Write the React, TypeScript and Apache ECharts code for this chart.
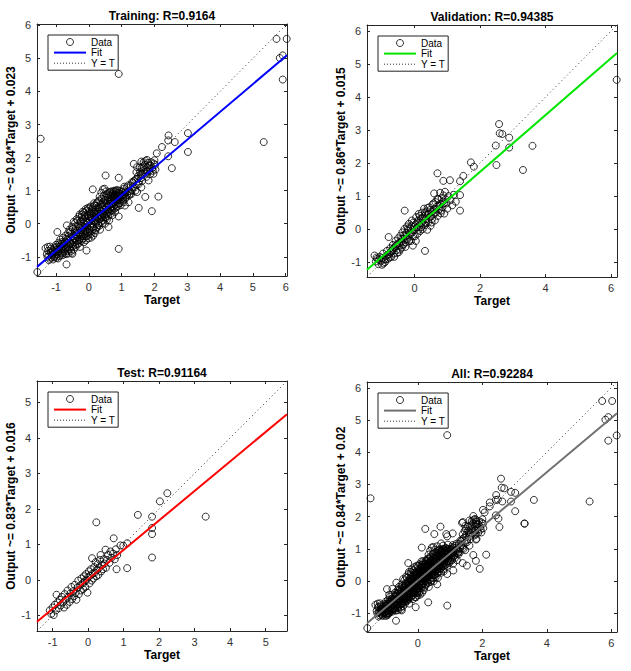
import React, { useEffect, useRef } from 'react';
import * as echarts from 'echarts';

// ---------- DATA ----------
const PANEL_TITLES = ['Training: R=0.9164', 'Validation: R=0.94385', 'Test: R=0.91164', 'All: R=0.92284'];
const Y_NAMES = [
  'Output ~= 0.84*Target + 0.023',
  'Output ~= 0.86*Target + 0.015',
  'Output ~= 0.83*Target + 0.016',
  'Output ~= 0.84*Target + 0.02',
];
const X_NAME = 'Target';
const LEGEND_LABELS = ['Data', 'Fit', 'Y = T'];
const FIT_SLOPES = [0.84, 0.86, 0.83, 0.84];
const FIT_INTERCEPTS = [0.023, 0.015, 0.016, 0.02];
const AXIS_LIMITS = [
  [-1.58, 6.04],
  [-1.45, 6.18],
  [-1.44, 5.6],
  [-1.58, 6.18],
];
const X_TICKS = [
  [-1, 0, 1, 2, 3, 4, 5, 6],
  [0, 2, 4, 6],
  [-1, 0, 1, 2, 3, 4, 5],
  [0, 2, 4, 6],
];
const Y_TICKS = [
  [-1, 0, 1, 2, 3, 4, 5, 6],
  [-1, 0, 1, 2, 3, 4, 5, 6],
  [-1, 0, 1, 2, 3, 4, 5],
  [-1, 0, 1, 2, 3, 4, 5, 6],
];

// [target, output]
const TRAINING_POINTS = [
  [-1.57, -1.46], [-1.47, 2.57], [0.91, 4.53], [5.72, 5.59], [6.03, 5.59], [5.82, 5.01], [5.91, 5.09], [5.91, 4.36],
  [5.33, 2.47], [3.02, 2.74], [3.02, 2.17], [2.43, 2.67], [2.42, 2.52], [2.62, 2.47], [2.23, 2.32], [2.07, 2.13],
  [2.42, 2.04], [2.53, 1.68], [2.02, 1.78], [2.12, 0.82], [1.92, 0.38], [1.72, 0.81], [1.52, 0.48], [0.91, 0.22],
  [0.91, -0.76], [-0.07, -0.81], [-0.68, -1.23], [-0.96, -0.25], [0.12, 1.04], [0.51, 1.46], [0.91, 1.39],
  [1.37, 1.81], [1.47, 1.71], [1.67, 1.86], [1.77, 1.93], [1.62, 1.51], [1.82, 1.31], [1.97, 1.51], [1.32, 1.26],
  [1.26, 0.91], [1.47, 0.96], [1.11, 0.76], [1.21, 0.65], [1.06, 0.65], [0.6, -0.1], [-0.5, -0.91],
  [-1.32, -0.74], [-1.28, -0.92], [-1.26, -1.0], [-1.24, -0.82], [-1.21, -0.96], [-1.19, -1.06], [-1.18, -0.69],
  [-1.16, -0.88], [-1.14, -1.02], [-1.12, -0.94], [-1.1, -0.8], [-1.09, -1.08], [-1.07, -0.9], [-1.05, -0.72],
  [-1.04, -0.99], [-1.02, -0.86], [-1.0, -0.64], [-0.99, -1.03], [-0.97, -0.78], [-0.95, -0.92], [-0.93, -0.58],
  [-0.92, -0.84], [-0.9, -0.98], [-0.88, -0.7], [-0.87, -0.48], [-0.85, -0.88], [-0.83, -0.62], [-0.82, -0.78],
  [-0.8, -0.95], [-0.79, -0.42], [-0.77, -0.68], [-0.75, -0.84], [-0.74, -0.55], [-0.72, -0.9], [-0.71, -0.36],
  [-0.7, -0.74], [-0.68, -0.6], [-0.67, -0.05], [-0.66, -0.48], [-0.64, -0.82], [-0.63, -0.28], [-0.61, -0.66],
  [-0.6, -0.52], [-0.59, -0.18], [-0.57, -0.76], [-0.56, -0.42], [-0.55, -0.6], [-0.53, -0.3], [-0.52, -0.88],
  [-0.51, -0.1], [-0.5, -0.5], [-0.49, -0.68], [-0.47, -0.38], [-0.46, 0.06], [-0.45, -0.56], [-0.43, -0.22],
  [-0.42, -0.46], [-0.41, -0.64], [-0.4, -0.08], [-0.39, -0.32], [-0.37, 0.14], [-0.36, -0.52], [-0.35, -0.2],
  [-0.34, -0.4], [-0.32, -0.02], [-0.31, -0.6], [-0.3, -0.28], [-0.29, 0.22], [-0.28, -0.12], [-0.27, -0.46],
  [-0.25, -0.34], [-0.24, 0.06], [-0.23, -0.2], [-0.22, -0.52], [-0.21, 0.28], [-0.2, -0.06], [-0.19, -0.38],
  [-0.18, 0.14], [-0.17, -0.24], [-0.16, -0.44], [-0.15, 0.02], [-0.14, 0.34], [-0.13, -0.14], [-0.12, -0.32],
  [-0.11, 0.2], [-0.1, -0.04], [-0.09, -0.5], [-0.08, 0.1], [-0.07, -0.22], [-0.06, 0.4], [-0.05, -0.1],
  [-0.04, 0.26], [-0.03, -0.36], [-0.02, 0.04], [-0.01, 0.16], [0.0, -0.16], [0.01, 0.46], [0.02, -0.28],
  [0.03, 0.08], [0.04, 0.3], [0.05, -0.06], [0.06, 0.2], [0.07, -0.42], [0.08, 0.38], [0.09, 0.0], [0.1, 0.12],
  [0.11, -0.2], [0.12, 0.5], [0.13, 0.24], [0.14, -0.1], [0.15, 0.06], [0.16, 0.34], [0.17, 0.56], [0.18, -0.28],
  [0.19, 0.16], [0.2, 0.42], [0.21, 0.02], [0.22, 0.28], [0.23, -0.14], [0.24, 0.62], [0.25, 0.2], [0.26, 0.36],
  [0.27, 0.08], [0.28, 0.5], [0.29, -0.04], [0.3, 0.3], [0.31, 0.7], [0.32, 0.14], [0.33, 0.44], [0.34, -0.18],
  [0.35, 0.24], [0.36, 0.58], [0.37, 0.06], [0.38, 0.38], [0.39, 0.76], [0.4, 0.2], [0.41, 0.5], [0.42, 0.3],
  [0.43, 0.66], [0.44, 0.1], [0.45, 0.42], [0.46, 0.84], [0.47, 0.26], [0.48, 0.56], [0.49, 0.0], [0.5, 0.36],
  [0.51, 0.72], [0.52, 0.18], [0.53, 0.48], [0.54, 0.9], [0.55, 0.3], [0.56, 0.62], [0.57, 0.42], [0.58, 0.8],
  [0.59, 0.24], [0.61, 0.54], [0.62, 0.94], [0.63, 0.36], [0.64, 0.7], [0.65, 0.46], [0.66, 0.86], [0.67, 0.3],
  [0.68, 0.6], [0.69, 0.98], [0.7, 0.5], [0.71, 0.76], [0.72, 0.4], [0.73, 0.9], [0.74, 0.62], [0.75, 0.52],
  [0.76, 0.82], [0.77, 1.0], [0.78, 0.66], [0.79, 0.46], [0.8, 0.88], [0.81, 0.74], [0.82, 0.58], [0.83, 0.96],
  [0.84, 0.8], [0.85, 0.66], [0.86, 1.02], [0.87, 0.86], [0.88, 0.52], [0.89, 0.72], [0.9, 0.94], [0.92, 0.82],
  [0.94, 0.62], [0.96, 0.9], [0.98, 0.74], [1.0, 0.98], [1.02, 0.86], [1.04, 0.7], [1.07, 1.06], [1.09, 0.88],
  [1.13, 0.8], [1.16, 1.1], [1.19, 0.98], [1.23, 0.86], [1.27, 1.16], [1.31, 1.02], [1.35, 1.24], [1.39, 1.1],
  [1.43, 1.34], [1.46, 1.18], [1.5, 1.44], [1.53, 1.28], [1.56, 1.56], [1.59, 1.38], [1.61, 1.7], [1.64, 1.48],
  [1.68, 1.62], [1.71, 1.78], [1.74, 1.52], [1.78, 1.7], [1.81, 1.84], [1.85, 1.6], [1.88, 1.76], [1.93, 1.68],
  [1.98, 1.82], [2.03, 1.64],
  [-1.25, -0.7], [-1.22, -1.1], [-1.15, -0.75], [-1.11, -0.86], [-1.06, -1.02], [-1.03, -0.78], [-1.01, -0.95],
  [-0.98, -0.7], [-0.96, -0.85], [-0.94, -1.05], [-0.91, -0.76], [-0.89, -0.62], [-0.86, -0.95], [-0.84, -0.72],
  [-0.81, -0.55], [-0.78, -0.88], [-0.76, -0.6], [-0.73, -0.78], [-0.7, -0.45], [-0.69, -0.92], [-0.65, -0.7],
  [-0.62, -0.38], [-0.62, -0.9], [-0.58, -0.58], [-0.56, -0.25], [-0.54, -0.82], [-0.5, -0.62], [-0.48, -0.15],
  [-0.46, -0.78], [-0.44, -0.44], [-0.42, 0.02], [-0.4, -0.7], [-0.38, -0.26], [-0.36, -0.62], [-0.34, 0.1],
  [-0.33, -0.34], [-0.3, -0.5], [-0.28, 0.28], [-0.27, -0.7], [-0.26, -0.06], [-0.24, -0.28], [-0.22, 0.2],
  [-0.2, -0.46], [-0.19, 0.36], [-0.17, -0.1], [-0.15, -0.56], [-0.13, 0.26], [-0.12, -0.22], [-0.1, 0.44],
  [-0.08, -0.38], [-0.06, 0.06], [-0.04, -0.26], [-0.03, 0.48], [-0.01, -0.44], [0.0, 0.22], [0.02, 0.36],
  [0.03, -0.2], [0.05, 0.52], [0.06, -0.32], [0.08, 0.16], [0.1, -0.1], [0.11, 0.44], [0.13, -0.36], [0.15, 0.3],
  [0.16, 0.62], [0.18, 0.1], [0.2, -0.2], [0.22, 0.54], [0.23, 0.36], [0.25, -0.1], [0.27, 0.66], [0.28, 0.2],
  [0.3, 0.46], [0.32, -0.06], [0.33, 0.82], [0.35, 0.4], [0.36, 0.16], [0.38, 0.94], [0.4, 0.6], [0.42, 0.02],
  [0.43, 1.04], [0.45, 0.3], [0.47, 0.72], [0.48, 1.06], [0.5, 0.2], [0.52, 0.62], [0.53, 0.98], [0.55, 0.12],
  [0.57, 0.7], [0.58, 0.36], [0.6, 0.86], [0.62, 0.1], [0.63, 0.58], [0.65, 0.96], [0.67, 0.7], [0.68, 0.4],
  [0.7, 0.84], [0.72, 0.26], [0.73, 0.6], [0.75, 0.96], [0.77, 0.74], [0.79, 0.86], [0.8, 0.36], [0.82, 1.0],
  [0.84, 0.5], [0.86, 0.74], [0.88, 0.92], [0.9, 0.6], [0.93, 1.0], [0.95, 0.78], [0.97, 0.56], [1.0, 0.84],
  [1.03, 0.96], [1.05, 0.8], [1.08, 1.12], [1.12, 0.95], [1.17, 0.88], [1.2, 1.16], [1.25, 0.98], [1.3, 0.9],
  [1.34, 1.12], [1.38, 1.3], [1.42, 1.0], [1.45, 1.56], [1.48, 1.36], [1.52, 1.2], [1.55, 1.7], [1.58, 1.5],
  [1.6, 1.88], [1.63, 1.3], [1.66, 1.74], [1.7, 1.56], [1.73, 1.9], [1.76, 1.42], [1.79, 1.58], [1.83, 1.76],
  [1.87, 1.5], [1.9, 1.86], [1.95, 1.6], [2.0, 1.92], [1.6, 1.1], [1.1, 0.55],
];

const VALIDATION_POINTS = [
  [6.17, 4.52], [2.58, 3.18], [2.6, 2.9], [2.68, 2.88], [2.89, 2.77], [2.89, 2.47], [2.48, 2.53], [3.6, 2.52],
  [2.5, 1.94], [3.31, 1.79], [1.72, 2.02], [1.81, 1.89], [1.49, 1.61], [1.39, 1.45], [1.08, 1.48], [0.88, 1.46],
  [0.7, 1.69], [-0.3, 0.56], [0.32, -0.66], [1.39, 0.56], [1.39, 1.03], [1.26, 0.83], [0.98, 0.78], [0.91, 0.47],
  [0.78, 1.1], [0.93, 1.13],
  [-1.22, -0.8], [-1.18, -0.98], [-1.14, -0.9], [-1.1, -1.06], [-1.06, -0.84], [-1.02, -0.96], [-0.99, -1.08],
  [-0.96, -0.74], [-0.93, -0.92], [-0.9, -1.0], [-0.87, -0.82], [-0.84, -0.66], [-0.81, -0.9], [-0.79, -0.24],
  [-0.77, -0.76], [-0.74, -0.58], [-0.71, -0.84], [-0.69, -0.66], [-0.66, -0.48], [-0.63, -0.74], [-0.6, -0.56],
  [-0.58, -0.36], [-0.55, -0.64], [-0.52, -0.46], [-0.5, -0.28], [-0.48, -0.7], [-0.45, -0.5], [-0.43, -0.2],
  [-0.41, -0.38], [-0.39, -0.56], [-0.37, -0.1], [-0.35, -0.3], [-0.33, -0.46], [-0.31, 0.0], [-0.29, -0.22],
  [-0.27, -0.4], [-0.25, -0.12], [-0.23, 0.08], [-0.21, -0.3], [-0.19, -0.04], [-0.17, 0.16], [-0.15, -0.2],
  [-0.13, 0.02], [-0.11, -0.36], [-0.09, 0.1], [-0.07, -0.1], [-0.05, -0.5], [-0.03, 0.2], [-0.01, -0.02],
  [0.01, -0.22], [0.03, 0.14], [0.05, 0.36], [0.07, 0.04], [0.09, -0.14], [0.11, 0.26], [0.13, 0.46], [0.15, 0.1],
  [0.17, -0.06], [0.19, 0.32], [0.21, 0.18], [0.23, 0.5], [0.25, 0.0], [0.27, 0.26], [0.29, 0.62], [0.31, 0.4],
  [0.33, 0.12], [0.35, 0.3], [0.37, 0.54], [0.39, -0.02], [0.41, 0.44], [0.43, 0.22], [0.45, 0.66], [0.47, 0.36],
  [0.49, 0.1], [0.51, 0.52], [0.53, 0.3], [0.55, 0.74], [0.57, 0.44], [0.6, 0.6], [0.62, 0.26], [0.64, 0.82],
  [0.66, 0.5], [0.68, 0.68], [0.71, 0.4], [0.73, 0.9], [0.75, 0.6], [0.78, 0.76], [0.8, 0.48], [0.83, 0.94],
  [0.85, 0.66], [0.88, 1.02], [0.9, 0.78], [0.95, 0.9], [1.0, 0.62], [1.04, 1.0], [1.1, 0.88], [1.15, 0.72],
  [1.2, 1.04], [0.6, 1.08],
  [-1.16, -0.86], [-1.08, -0.94], [-1.0, -0.88], [-0.95, -1.04], [-0.88, -0.92], [-0.82, -0.78], [-0.76, -0.86],
  [-0.72, -0.7], [-0.67, -0.6], [-0.62, -0.84], [-0.57, -0.5], [-0.53, -0.72], [-0.47, -0.42], [-0.44, -0.62],
  [-0.4, -0.3], [-0.36, -0.48], [-0.32, -0.18], [-0.28, -0.54], [-0.24, -0.3], [-0.2, 0.02], [-0.16, -0.36],
  [-0.12, -0.12], [-0.08, 0.26], [-0.04, -0.22], [0.0, 0.08], [0.04, -0.36], [0.08, 0.2], [0.12, -0.02],
  [0.16, 0.4], [0.2, 0.06], [0.24, 0.34], [0.28, 0.16], [0.32, 0.5], [0.36, 0.2], [0.4, 0.64], [0.44, 0.46],
  [0.48, 0.58], [0.52, 0.2], [0.58, 0.78], [0.63, 0.5], [0.7, 0.92], [0.76, 0.7], [0.82, 0.56], [0.87, 0.84],
];

const TEST_POINTS = [
  [3.31, 1.78], [2.23, 2.44], [2.02, 2.21], [1.4, 1.83], [1.8, 1.78], [1.8, 1.46], [1.8, 1.29], [1.8, 0.63],
  [1.1, 0.33], [0.8, 0.3], [0.23, 1.62], [0.72, 1.17], [1.1, 1.03], [0.91, 0.97], [0.99, 0.96],
  [-1.08, -0.86], [-1.04, -0.96], [-1.0, -0.78], [-0.97, -0.99], [-0.94, -0.7], [-0.91, -0.86], [-0.89, -0.42],
  [-0.86, -0.64], [-0.83, -0.8], [-0.8, -0.56], [-0.77, -0.72], [-0.74, -0.48], [-0.71, -0.64], [-0.68, -0.78],
  [-0.66, -0.4], [-0.63, -0.56], [-0.6, -0.7], [-0.58, -0.3], [-0.55, -0.48], [-0.52, -0.62], [-0.5, -0.38],
  [-0.47, -0.2], [-0.45, -0.54], [-0.42, -0.32], [-0.4, -0.46], [-0.38, -0.14], [-0.35, -0.36], [-0.33, -0.56],
  [-0.3, -0.22], [-0.28, -0.02], [-0.26, -0.4], [-0.23, -0.16], [-0.21, -0.3], [-0.19, 0.04], [-0.16, -0.1],
  [-0.14, -0.26], [-0.12, 0.1], [-0.1, -0.04], [-0.08, -0.2], [-0.06, 0.16], [-0.04, 0.0], [-0.02, -0.36],
  [0.0, 0.08], [0.02, 0.24], [0.04, -0.1], [0.06, 0.12], [0.08, 0.3], [0.1, -0.02], [0.11, 0.61], [0.13, 0.18],
  [0.15, 0.04], [0.17, 0.36], [0.19, 0.2], [0.21, 0.5], [0.23, 0.1], [0.25, 0.28], [0.27, 0.44], [0.29, 0.14],
  [0.31, 0.34], [0.33, 0.56], [0.35, 0.7], [0.37, 0.24], [0.39, 0.42], [0.42, 0.3], [0.44, 0.58], [0.46, 0.46],
  [0.49, 0.85], [0.5, 0.34], [0.53, 0.56], [0.56, 0.7], [0.6, 0.48], [0.63, 0.8], [0.66, 0.62], [0.7, 0.74],
  [0.75, 0.58], [0.78, 0.86], [0.82, 0.7],
];

const ALL_POINTS = [...TRAINING_POINTS, ...VALIDATION_POINTS, ...TEST_POINTS];
const PANEL_POINTS = [TRAINING_POINTS, VALIDATION_POINTS, TEST_POINTS, ALL_POINTS];

// ---------- STYLE / LAYOUT ----------
const FIT_COLORS = ['#0000ff', '#00e600', '#ff0000', '#707070'];
const GRIDS = [
  { left: 37, top: 24, width: 250, height: 252 },
  { left: 367, top: 25, width: 250, height: 252 },
  { left: 37, top: 381, width: 250, height: 250 },
  { left: 367, top: 382, width: 250, height: 250 },
];
const FONT = '"Liberation Sans", Arial, Helvetica, sans-serif';
const AXIS_COLOR = '#262626';

function buildOption() {
  const grid: any[] = [];
  const xAxis: any[] = [];
  const yAxis: any[] = [];
  const series: any[] = [];
  const title: any[] = [];
  const legend: any[] = [];

  PANEL_TITLES.forEach((t, i) => {
    const g = GRIDS[i];
    const [lo, hi] = AXIS_LIMITS[i];
    grid.push({ ...g, show: false, containLabel: false, outerBoundsMode: 'none' });

    const base = (ticks: number[]) => ({
      type: 'value',
      gridIndex: i,
      min: lo,
      max: hi,
      splitLine: { show: false },
      axisLine: { show: true, onZero: false, lineStyle: { color: AXIS_COLOR, width: 1 } },
      axisTick: { show: true, inside: true, length: 3, customValues: ticks, lineStyle: { color: AXIS_COLOR, width: 1 } },
    });

    xAxis.push({
      ...base(X_TICKS[i]),
      position: 'bottom',
      name: X_NAME,
      nameLocation: 'middle',
      nameGap: 18,
      nameTextStyle: { fontFamily: FONT, fontSize: 12, fontWeight: 'bold', color: '#000' },
      axisLabel: { show: true, customValues: X_TICKS[i], margin: 5, fontFamily: FONT, fontSize: 11, color: '#333' },
    });
    xAxis.push({ ...base(X_TICKS[i]), position: 'top', axisLabel: { show: false } });

    yAxis.push({
      ...base(Y_TICKS[i]),
      position: 'left',
      name: Y_NAMES[i],
      nameLocation: 'middle',
      nameGap: 15,
      nameTextStyle: { fontFamily: FONT, fontSize: 12, fontWeight: 'bold', color: '#000' },
      axisLabel: { show: true, customValues: Y_TICKS[i], margin: 6, fontFamily: FONT, fontSize: 11, color: '#333' },
    });
    yAxis.push({ ...base(Y_TICKS[i]), position: 'right', axisLabel: { show: false } });

    title.push({
      text: t,
      left: g.left + g.width / 2,
      top: g.top - 14,
      textAlign: 'center',
      padding: 0,
      textStyle: { fontFamily: FONT, fontSize: 12, fontWeight: 'bold', color: '#000' },
    });

    const nData = `${LEGEND_LABELS[0]}#${i}`;
    const nFit = `${LEGEND_LABELS[1]}#${i}`;
    const nYT = `${LEGEND_LABELS[2]}#${i}`;

    series.push({
      type: 'scatter',
      name: nData,
      xAxisIndex: 2 * i,
      yAxisIndex: 2 * i,
      data: PANEL_POINTS[i],
      symbol: 'circle',
      symbolSize: 7,
      itemStyle: { color: 'rgba(0,0,0,0)', borderColor: '#000', borderWidth: 1 },
      silent: true,
      z: 2,
    });
    const s = FIT_SLOPES[i];
    const b = FIT_INTERCEPTS[i];
    series.push({
      type: 'line',
      name: nFit,
      xAxisIndex: 2 * i,
      yAxisIndex: 2 * i,
      data: [[lo, s * lo + b], [hi, s * hi + b]],
      symbol: 'none',
      lineStyle: { color: FIT_COLORS[i], width: 2 },
      itemStyle: { color: FIT_COLORS[i] },
      silent: true,
      z: 3,
    });
    series.push({
      type: 'line',
      name: nYT,
      xAxisIndex: 2 * i,
      yAxisIndex: 2 * i,
      data: [[lo, lo], [hi, hi]],
      symbol: 'none',
      lineStyle: { color: '#333', width: 1, type: [1, 3] },
      itemStyle: { color: '#333' },
      silent: true,
      z: 4,
    });

    const hiddenSymbol = { color: 'rgba(0,0,0,0)', borderWidth: 0, opacity: 0 };
    legend.push({
      show: true,
      orient: 'vertical',
      left: g.left + 11,
      top: g.top + 11,
      align: 'left',
      selectedMode: false,
      backgroundColor: '#fff',
      borderColor: '#222',
      borderWidth: 1,
      borderRadius: 0,
      padding: [2, 3, 2, 5],
      itemGap: 0.6,
      itemWidth: 32,
      itemHeight: 7,
      itemTextGap: 3,
      formatter: (name: string) => name.split('#')[0],
      textStyle: { fontFamily: FONT, fontSize: 10, color: '#000', lineHeight: 10 },
      data: [
        { name: nData, itemStyle: { borderWidth: 1, borderColor: '#000', color: 'rgba(0,0,0,0)' } },
        { name: nFit, itemStyle: hiddenSymbol, lineStyle: { width: 2, color: FIT_COLORS[i] } },
        { name: nYT, itemStyle: hiddenSymbol, lineStyle: { width: 1, color: '#333', type: [1, 2] } },
      ],
      z: 10,
    });
  });

  return {
    animation: false,
    backgroundColor: '#fff',
    title,
    legend,
    grid,
    xAxis,
    yAxis,
    series,
  };
}

export default function App() {
  const ref = useRef<HTMLDivElement>(null);
  useEffect(() => {
    if (!ref.current) return;
    const chart = echarts.init(ref.current, undefined, { renderer: 'svg' });
    chart.setOption(buildOption() as any);
    return () => chart.dispose();
  }, []);
  return (
    <div
      ref={ref}
      style={{ position: 'absolute', left: 0, top: 0, width: 631, height: 671, background: '#fff' }}
    />
  );
}
